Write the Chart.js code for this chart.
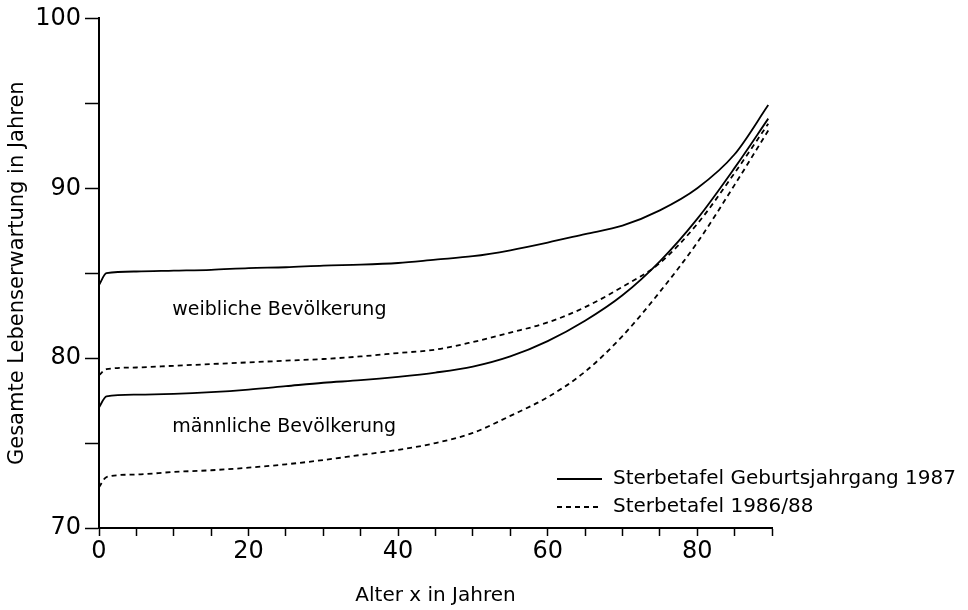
<!DOCTYPE html>
<html>
<head>
<meta charset="utf-8">
<script src="https://cdn.jsdelivr.net/npm/chart.js@4"></script>
<style>
  body { margin: 0; background: #fff; }
  #wrap { width: 968px; height: 610px; }
</style>
</head>
<body>
<div id="wrap"><canvas id="myChart" width="968" height="610"></canvas></div>
<script>
// Alter in Jahren
var ages = [0, 1, 5, 10, 15, 20, 25, 30, 35, 40, 45, 50, 55, 60, 65, 70, 75, 80, 85, 89.5];

// Sterbetafel Geburtsjahrgang 1987
var weiblichKohorte = [84.3, 85.0, 85.1, 85.15, 85.2, 85.3, 85.35, 85.45, 85.5, 85.6, 85.8, 86.0, 86.35, 86.8, 87.3, 87.8, 88.7, 90.0, 92.0, 94.9];
var maennlichKohorte = [77.1, 77.75, 77.85, 77.9, 78.0, 78.15, 78.35, 78.55, 78.7, 78.9, 79.15, 79.5, 80.1, 81.0, 82.2, 83.7, 85.7, 88.2, 91.2, 94.1];

// Sterbetafel 1986/88
var weiblichPeriode = [79.0, 79.35, 79.45, 79.55, 79.65, 79.75, 79.85, 79.95, 80.1, 80.3, 80.5, 80.95, 81.5, 82.1, 83.0, 84.2, 85.6, 87.9, 90.9, 93.8];
var maennlichPeriode = [72.4, 73.0, 73.15, 73.3, 73.4, 73.55, 73.75, 74.0, 74.3, 74.6, 75.0, 75.6, 76.6, 77.7, 79.2, 81.3, 83.9, 86.8, 90.2, 93.4];

var legendLabels = ['Sterbetafel Geburtsjahrgang 1987', 'Sterbetafel 1986/88'];

var FONT = 'DejaVu Sans';

function pts(values) {
    return values.map(function(v, i) {
        return { x: ages[i], y: v };
    });
}

function line(values, dashed) {
    return {
        data: pts(values),
        borderColor: '#000',
        borderWidth: 1.8,
        borderDash: dashed ? [5, 4] : [],
        pointRadius: 0,
        cubicInterpolationMode: 'monotone',
        fill: false
    };
}

var textPlugin = {
    id: 'texte',
    afterDraw: function(chart) {
        var ctx = chart.ctx;
        var xs = chart.scales.x, ys = chart.scales.y;
        ctx.save();
        ctx.fillStyle = '#000';
        ctx.font = '19px "' + FONT + '"';
        ctx.textBaseline = 'middle';
        ctx.textAlign = 'left';
        ctx.fillText('weibliche Bevölkerung', xs.getPixelForValue(9.8), ys.getPixelForValue(82.85));
        ctx.fillText('männliche Bevölkerung', xs.getPixelForValue(9.8), ys.getPixelForValue(75.95));

        // Legende
        ctx.font = '20px "' + FONT + '"';
        var rows = [479, 507];
        ctx.strokeStyle = '#000';
        ctx.lineWidth = 1.8;
        for (var i = 0; i < 2; i++) {
            ctx.setLineDash(i === 0 ? [] : [5, 4]);
            ctx.beginPath();
            ctx.moveTo(557, rows[i]);
            ctx.lineTo(602, rows[i]);
            ctx.stroke();
            ctx.fillText(legendLabels[i], 613, rows[i]);
        }
        ctx.restore();
    }
};

var ctx = document.getElementById('myChart').getContext('2d');
var myChart = new Chart(ctx, {
    type: 'line',
    data: {
        datasets: [
            line(weiblichKohorte, false),
            line(maennlichKohorte, false),
            line(weiblichPeriode, true),
            line(maennlichPeriode, true)
        ]
    },
    options: {
        responsive: false,
        animation: false,
        layout: {
            padding: { top: 15, right: 196, bottom: 0, left: 0 }
        },
        plugins: {
            legend: { display: false },
            tooltip: { enabled: false }
        },
        scales: {
            x: {
                type: 'linear',
                min: 0,
                max: 90,
                afterFit: function(scale) { scale.height = 82; },
                ticks: {
                    stepSize: 5,
                    color: '#000',
                    font: { family: FONT, size: 24 },
                    padding: 1,
                    maxRotation: 0,
                    autoSkip: false,
                    callback: function(v) { return v % 20 === 0 ? v : ''; }
                },
                grid: {
                    drawOnChartArea: false,
                    drawTicks: true,
                    tickLength: 8,
                    tickColor: '#000',
                    tickWidth: 1.5
                },
                border: { display: true, color: '#000', width: 2 },
                title: {
                    display: true,
                    text: 'Alter x in Jahren',
                    color: '#000',
                    font: { family: FONT, size: 20 },
                    padding: { top: 0, bottom: 2 }
                }
            },
            y: {
                type: 'linear',
                min: 70,
                max: 100,
                afterFit: function(scale) { scale.width = 99; },
                ticks: {
                    stepSize: 5,
                    color: '#000',
                    font: { family: FONT, size: 24 },
                    padding: 4,
                    autoSkip: false,
                    callback: function(v) { return v % 10 === 0 ? v : ''; }
                },
                grid: {
                    drawOnChartArea: false,
                    drawTicks: true,
                    tickLength: 14,
                    tickColor: '#000',
                    tickWidth: 1.5
                },
                border: { display: true, color: '#000', width: 2 },
                title: {
                    display: true,
                    text: 'Gesamte Lebenserwartung in Jahren',
                    color: '#000',
                    font: { family: FONT, size: 21 },
                    padding: { top: 5, bottom: 0 }
                }
            }
        }
    },
    plugins: [textPlugin]
});
</script>
</body>
</html>
